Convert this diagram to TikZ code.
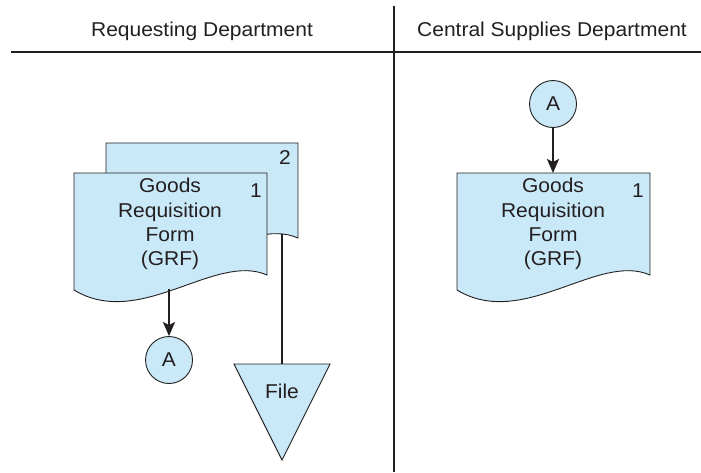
\documentclass[tikz,border=0pt]{standalone}
\usepackage{fontspec}
\setmainfont[FakeStretch=1.05]{Liberation Sans}
\usetikzlibrary{arrows.meta}
\definecolor{docblue}{RGB}{201,232,248}
\definecolor{ink}{RGB}{35,31,32}
\begin{document}
\begin{tikzpicture}[x=1pt,y=-1pt,
  docshape/.style={draw=ink, line width=0.9pt, fill=docblue},
  rule/.style={draw=ink, line width=1.2pt},
  conn/.style={draw=ink, line width=2.2pt},
  arr/.style={conn, -{Stealth[length=14pt,width=12pt,inset=3pt]}},
  big/.style={font=\fontsize{20}{24.3}\selectfont, text=ink},
  conncircle/.style={docshape, circle, minimum size=47pt, inner sep=0pt, big}
]
\useasboundingbox (0,0) rectangle (701,472);

% lane dividers
\coordinate (hl) at (11,52);
\coordinate (hr) at (701,52);
\coordinate (vt) at (394,6);
\coordinate (vb) at (394,472);
\draw[rule] (hl) -- (hr);
\draw[rule] (vt) -- (vb);

% headers
\node[big, anchor=base] (h1) at (202,36.7) {Requesting Department};
\node[big, anchor=base] (h2) at (552,36.7) {Central Supplies Department};

% back document (copy 2)
\draw[docshape] (106,143) -- (298,143) -- (298,238)
  .. controls (246,215) and (171,293) .. (106,253) -- cycle;
\node[big] (n2) at (285,158) {2};

% front document (copy 1)
\draw[docshape] (74,173) -- (267,173) -- (267,275)
  .. controls (215,252) and (140,330) .. (74,290) -- cycle;
\node[big, align=center] (grf1) at (170,224) {Goods\\Requisition\\Form\\(GRF)};
\node[big] (n1) at (256,191) {1};

% file
\coordinate (d2b) at (282,234);
\coordinate (ft) at (282,364);
\draw[conn] (d2b) -- (ft);
\draw[docshape] (234,364) -- (330,364) -- (282,460) -- cycle;
\node[big] (file) at (282,391.5) {File};

% connector A (left)
\node[conncircle] (A1) at (169,360) {A};
\coordinate (d1b) at (169,289);
\draw[arr] (d1b) -- (A1.north);

% right lane document
\draw[docshape] (457,173) -- (650,173) -- (650,275)
  .. controls (598,252) and (523,330) .. (457,290) -- cycle;
\node[big, align=center] (grf2) at (553,224) {Goods\\Requisition\\Form\\(GRF)};
\node[big] (n3) at (638,191) {1};

% connector A (right)
\node[conncircle] (A2) at (553,104) {A};
\coordinate (d3t) at (553,173);
\draw[arr] (A2.south) -- (d3t);
\end{tikzpicture}
\end{document}
